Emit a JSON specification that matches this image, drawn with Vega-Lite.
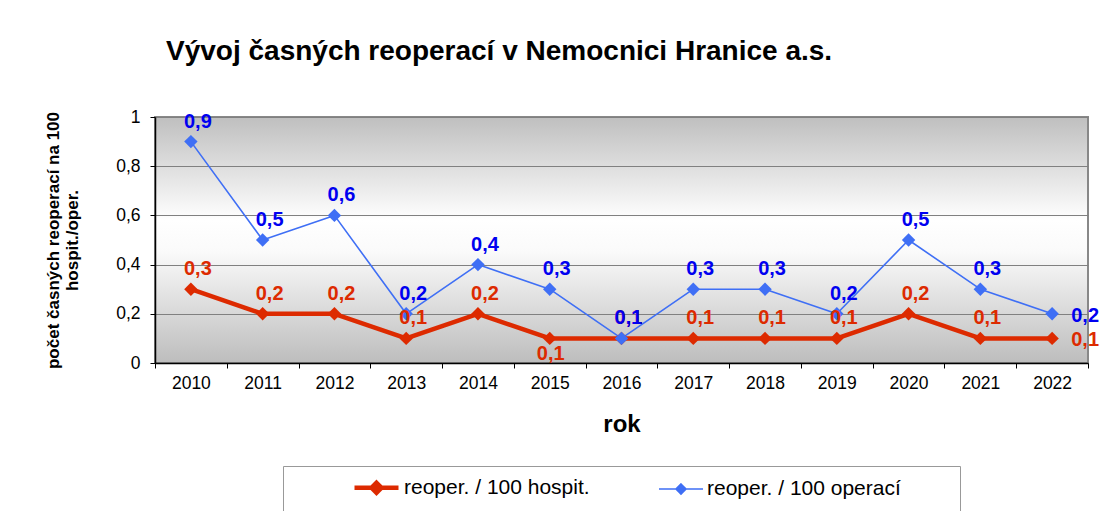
{
  "$schema": "https://vega.github.io/schema/vega-lite/v6.json",
  "width": 933,
  "height": 246,
  "autosize": "none",
  "padding": {"left": 155, "top": 117, "right": 15, "bottom": 148},
  "background": "white",
  "title": {
    "text": "Vývoj časných reoperací v Nemocnici Hranice a.s.",
    "anchor": "start",
    "frame": "group",
    "dx": 11,
    "offset": 20,
    "baseline": "alphabetic",
    "font": "Liberation Sans",
    "fontSize": 28,
    "fontWeight": "bold",
    "color": "#000000"
  },
  "data": {
    "values": [
      {"rok": "2010", "serie": "reoper. / 100 hospit.", "hodnota": 0.3},
      {"rok": "2011", "serie": "reoper. / 100 hospit.", "hodnota": 0.2},
      {"rok": "2012", "serie": "reoper. / 100 hospit.", "hodnota": 0.2},
      {"rok": "2013", "serie": "reoper. / 100 hospit.", "hodnota": 0.1},
      {"rok": "2014", "serie": "reoper. / 100 hospit.", "hodnota": 0.2},
      {"rok": "2015", "serie": "reoper. / 100 hospit.", "hodnota": 0.1},
      {"rok": "2016", "serie": "reoper. / 100 hospit.", "hodnota": 0.1},
      {"rok": "2017", "serie": "reoper. / 100 hospit.", "hodnota": 0.1},
      {"rok": "2018", "serie": "reoper. / 100 hospit.", "hodnota": 0.1},
      {"rok": "2019", "serie": "reoper. / 100 hospit.", "hodnota": 0.1},
      {"rok": "2020", "serie": "reoper. / 100 hospit.", "hodnota": 0.2},
      {"rok": "2021", "serie": "reoper. / 100 hospit.", "hodnota": 0.1},
      {"rok": "2022", "serie": "reoper. / 100 hospit.", "hodnota": 0.1},
      {"rok": "2010", "serie": "reoper. / 100 operací", "hodnota": 0.9},
      {"rok": "2011", "serie": "reoper. / 100 operací", "hodnota": 0.5},
      {"rok": "2012", "serie": "reoper. / 100 operací", "hodnota": 0.6},
      {"rok": "2013", "serie": "reoper. / 100 operací", "hodnota": 0.2},
      {"rok": "2014", "serie": "reoper. / 100 operací", "hodnota": 0.4},
      {"rok": "2015", "serie": "reoper. / 100 operací", "hodnota": 0.3},
      {"rok": "2016", "serie": "reoper. / 100 operací", "hodnota": 0.1},
      {"rok": "2017", "serie": "reoper. / 100 operací", "hodnota": 0.3},
      {"rok": "2018", "serie": "reoper. / 100 operací", "hodnota": 0.3},
      {"rok": "2019", "serie": "reoper. / 100 operací", "hodnota": 0.2},
      {"rok": "2020", "serie": "reoper. / 100 operací", "hodnota": 0.5},
      {"rok": "2021", "serie": "reoper. / 100 operací", "hodnota": 0.3},
      {"rok": "2022", "serie": "reoper. / 100 operací", "hodnota": 0.2}
    ]
  },
  "encoding": {
    "x": {
      "field": "rok",
      "type": "ordinal",
      "scale": {"type": "band", "paddingInner": 0, "paddingOuter": 0},
      "axis": {
        "title": "rok",
        "labelAngle": 0,
        "tickBand": "extent",
        "grid": false,
        "domainColor": "#000000",
        "domainWidth": 1.5,
        "tickColor": "#000000",
        "tickSize": 5,
        "labelPadding": 6,
        "labelFont": "Liberation Sans",
        "labelFontSize": 17.5,
        "labelColor": "#000000",
        "titleFont": "Liberation Sans",
        "titleFontSize": 24,
        "titleFontWeight": "bold",
        "titleColor": "#000000",
        "titlePadding": 21
      }
    },
    "y": {
      "field": "hodnota",
      "type": "quantitative",
      "scale": {"domain": [0, 1], "nice": false, "zero": true},
      "axis": {
        "title": ["počet časných reoperací na 100", "hospit./oper."],
        "values": [0, 0.2, 0.4, 0.6, 0.8, 1],
        "format": "~g",
        "grid": true,
        "gridColor": "#808080",
        "gridWidth": 1,
        "domainColor": "#000000",
        "domainWidth": 1.5,
        "tickColor": "#000000",
        "tickSize": 5,
        "labelPadding": 10,
        "labelFont": "Liberation Sans",
        "labelFontSize": 17.5,
        "labelColor": "#000000",
        "titleFont": "Liberation Sans",
        "titleFontSize": 17,
        "titleFontWeight": "bold",
        "titleColor": "#000000",
        "titleLineHeight": 19,
        "titlePadding": 34
      }
    }
  },
  "layer": [
    {
      "mark": {"type": "line", "strokeJoin": "round"},
      "encoding": {
        "color": {
          "field": "serie",
          "type": "nominal",
          "scale": {"domain": ["reoper. / 100 hospit.", "reoper. / 100 operací"], "range": ["#dd2a00", "#3f6ff5"]},
          "legend": {
            "title": "\u00a0",
            "titleOrient": "right",
            "titlePadding": 50,
            "orient": "none",
            "legendX": 128,
            "legendY": 349,
            "direction": "horizontal",
            "symbolType": "M-2.2,0H2.2M0,-0.5L0.5,0L0,0.5L-0.5,0Z",
            "symbolSize": 400,
            "symbolOffset": 72,
            "columnPadding": 8,
            "labelOffset": 15,
            "labelFont": "Liberation Sans",
            "labelFontSize": 21,
            "labelColor": "#000000",
            "labelLimit": 400,
            "padding": 9,
            "strokeColor": "#999999",
            "fillColor": "#ffffff",
            "encode": {
              "symbols": {"update": {"fill": {"scale": "color", "field": "value"}}}
            }
          }
        },
        "strokeWidth": {
          "field": "serie",
          "type": "nominal",
          "scale": {"domain": ["reoper. / 100 hospit.", "reoper. / 100 operací"], "range": [4.5, 1.6]},
          "legend": {
            "title": "\u00a0",
            "titleOrient": "right",
            "titlePadding": 50,
            "orient": "none",
            "legendX": 128,
            "legendY": 349,
            "direction": "horizontal",
            "symbolType": "M-2.2,0H2.2M0,-0.5L0.5,0L0,0.5L-0.5,0Z",
            "symbolSize": 400,
            "symbolOffset": 72,
            "columnPadding": 8,
            "labelOffset": 15,
            "labelFont": "Liberation Sans",
            "labelFontSize": 21,
            "labelColor": "#000000",
            "labelLimit": 400,
            "padding": 9,
            "strokeColor": "#999999",
            "fillColor": "#ffffff"
          }
        }
      }
    },
    {
      "mark": {"type": "point", "shape": "diamond", "filled": true, "size": 180, "opacity": 1},
      "encoding": {
        "color": {"field": "serie", "type": "nominal"}
      }
    },
    {
      "transform": [{"filter": "datum.rok != '2022' && !(datum.rok == '2015' && datum.serie == 'reoper. / 100 hospit.')"}],
      "mark": {"type": "text", "dx": 7, "dy": -20, "font": "Liberation Sans", "fontSize": 20, "fontWeight": "bold", "baseline": "middle"},
      "encoding": {
        "text": {"field": "hodnota", "type": "quantitative", "format": ".1f"},
        "color": {"condition": {"test": "datum.serie == 'reoper. / 100 operací'", "value": "#0000f0"}, "value": "#dd2a00"}
      }
    },
    {
      "transform": [{"filter": "datum.rok == '2015' && datum.serie == 'reoper. / 100 hospit.'"}],
      "mark": {"type": "text", "dx": 1, "dy": 16, "font": "Liberation Sans", "fontSize": 20, "fontWeight": "bold", "baseline": "middle"},
      "encoding": {
        "text": {"field": "hodnota", "type": "quantitative", "format": ".1f"},
        "color": {"value": "#dd2a00"}
      }
    },
    {
      "transform": [{"filter": "datum.rok == '2022'"}],
      "mark": {"type": "text", "dx": 33, "dy": 2, "font": "Liberation Sans", "fontSize": 20, "fontWeight": "bold", "baseline": "middle"},
      "encoding": {
        "text": {"field": "hodnota", "type": "quantitative", "format": ".1f"},
        "color": {"condition": {"test": "datum.serie == 'reoper. / 100 operací'", "value": "#0000f0"}, "value": "#dd2a00"}
      }
    }
  ],
  "config": {
    "locale": {"number": {"decimal": ",", "thousands": " ", "grouping": [3], "currency": ["", " Kč"]}},
    "view": {
      "stroke": "#888888",
      "strokeWidth": 2,
      "fill": {
        "gradient": "linear",
        "x1": 0, "y1": 0, "x2": 0, "y2": 1,
        "stops": [
          {"offset": 0, "color": "#bfbfbf"},
          {"offset": 0.42, "color": "#ffffff"},
          {"offset": 0.55, "color": "#fafafa"},
          {"offset": 1, "color": "#bdbdbd"}
        ]
      }
    },
    "font": "Liberation Sans"
  }
}
